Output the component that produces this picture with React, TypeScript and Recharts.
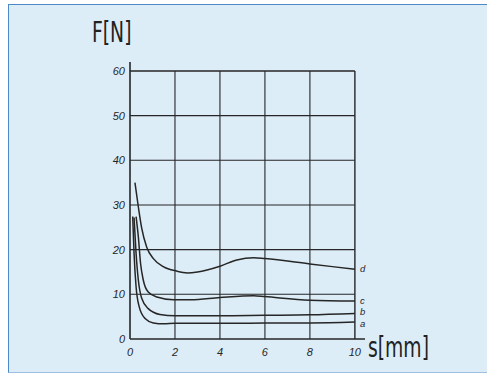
import { LineChart, Line, XAxis, YAxis, ReferenceLine } from "recharts";

// curve a
const aX = [0.12, 0.18, 0.27, 0.41, 0.67, 1.04, 1.5, 2, 4, 6, 8, 10];
const aY = [27.4, 19.2, 11.7, 7.2, 4.6, 3.6, 3.4, 3.5, 3.5, 3.6, 3.6, 3.8];
// curve b
const bX = [0.18, 0.27, 0.37, 0.52, 0.81, 1.33, 2, 4, 6, 8, 10];
const bY = [27.2, 19.2, 13.2, 9.1, 6.8, 5.5, 5.2, 5.2, 5.3, 5.4, 5.7];
// curve c
const cX = [0.27, 0.37, 0.47, 0.59, 0.81, 1.19, 1.93, 2.7, 4, 5.5, 6, 8, 10];
const cY = [27.4, 22.9, 16.9, 13.2, 10.5, 9.4, 8.8, 8.8, 9.3, 9.7, 9.5, 8.7, 8.5];
// curve d
const dX = [0.22, 0.37, 0.52, 0.74, 1.04, 1.48, 2.07, 2.55, 3, 4, 4.75, 5.5, 6, 8, 10];
const dY = [35, 29.6, 24.8, 20.6, 18, 16.2, 15.2, 14.8, 15, 16.3, 17.7, 18.2, 18, 16.8, 15.6];

const xTicks = [0, 2, 4, 6, 8, 10];
const yTicks = [0, 10, 20, 30, 40, 50, 60];
const gridX = [2, 4, 6, 8, 10];
const gridY = [10, 20, 30, 40, 50, 60];

const curves = [
  { name: "a", xs: aX, ys: aY, dy: 4.5 },
  { name: "b", xs: bX, ys: bY, dy: 1.5 },
  { name: "c", xs: cX, ys: cY, dy: 3 },
  { name: "d", xs: dX, ys: dY, dy: 3 },
];

const ink = "#262626";
const tickStyle = { fontSize: 11, fontStyle: "italic", fill: ink, fontFamily: "'Liberation Sans', Arial, sans-serif" };
const titleStyle = {
  position: "absolute" as const, fontSize: 28, color: "#222", lineHeight: "34px",
  fontFamily: "'DejaVu Sans', sans-serif", transform: "scaleX(0.67)", transformOrigin: "left top",
};

function EndLabel(name: string, count: number, dy: number) {
  return (props: any) => {
    if (props.index !== count - 1) return null;
    return (
      <text x={props.x + 5} y={props.y + dy} fontSize={9.5} fontStyle="italic" fill={ink}
        fontFamily="'Liberation Sans', Arial, sans-serif">
        {name}
      </text>
    );
  };
}

export default function App() {
  return (
    <div style={{ position: "absolute", left: 0, top: 0, width: 487, height: 374, background: "#fff" }}>
      <div style={{
        position: "absolute", left: 8, top: 4, width: 479, height: 369,
        background: "#ddedf8", borderTop: "1.5px solid #4d88c9", borderLeft: "1.5px solid #4d88c9",
        borderBottom: "1px solid #9cc0e3", boxSizing: "border-box",
      }} />
      <div style={{ ...titleStyle, left: 92, top: 16 }}>F[N]</div>
      <div style={{ ...titleStyle, left: 368, top: 331 }}>s[mm]</div>
      <div style={{ position: "absolute", left: 0, top: 0 }}>
        <LineChart width={487} height={374} margin={{ top: 62, right: 122, bottom: 5, left: 100 }}>
          <XAxis type="number" dataKey="x" domain={[0, 10.45]} ticks={xTicks} allowDataOverflow
            height={30} tickSize={0} tickMargin={9} tick={tickStyle}
            axisLine={{ stroke: ink, strokeWidth: 1.6 }} tickLine={false} />
          <YAxis type="number" dataKey="y" domain={[0, 62]} ticks={yTicks} allowDataOverflow
            width={30} tickSize={0} tickMargin={5} tick={tickStyle}
            axisLine={{ stroke: ink, strokeWidth: 1.6 }} tickLine={false} />
          {gridY.map((v) => (
            <ReferenceLine key={"h" + v} segment={[{ x: 0, y: v }, { x: 10, y: v }]}
              stroke={ink} strokeWidth={v === 60 ? 1.5 : 1.1} ifOverflow="visible" />
          ))}
          {gridX.map((v) => (
            <ReferenceLine key={"v" + v} segment={[{ x: v, y: 0 }, { x: v, y: 60 }]}
              stroke={ink} strokeWidth={v === 10 ? 1.4 : 1.1} ifOverflow="visible" />
          ))}
          {curves.map((c) => (
            <Line key={c.name} data={c.xs.map((x, i) => ({ x, y: c.ys[i] }))} dataKey="y"
              type="monotone" stroke={ink} strokeWidth={1.5} dot={false}
              isAnimationActive={false} label={EndLabel(c.name, c.xs.length, c.dy)} />
          ))}
        </LineChart>
      </div>
    </div>
  );
}
